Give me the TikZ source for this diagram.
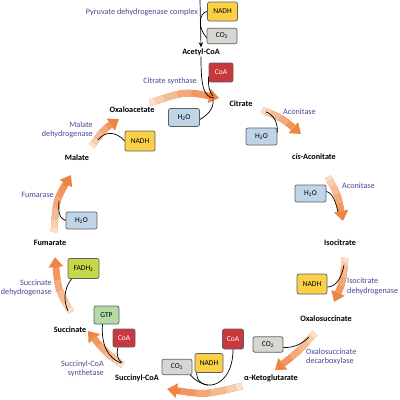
\documentclass[tikz,border=0pt]{standalone}
\usepackage{fontspec}
\setmainfont{Carlito}
\usetikzlibrary{arrows.meta}
\definecolor{ohead}{RGB}{237,132,66}
\definecolor{otail}{RGB}{251,224,204}
\definecolor{enz}{RGB}{72,72,150}
\definecolor{cyel}{RGB}{250,208,70}
\definecolor{cgray}{RGB}{214,214,210}
\definecolor{cred}{RGB}{200,56,60}
\definecolor{cblue}{RGB}{192,212,232}
\definecolor{cgreen}{RGB}{178,218,166}
\definecolor{cfad}{RGB}{198,216,72}
\definecolor{bord}{RGB}{95,95,95}
\newcommand\garr[4]{%
  \draw[line width=6.5pt, draw=ohead, -{Triangle[width=14pt,length=10pt]}] (#1) .. controls (#2) .. (#3);
  \foreach \fr/\mx in {0.8/20,0.6/40,0.4/60,0.2/80,0.07/100}{%
    \pgfmathsetlengthmacro\lA{min(\fr*#4,#4-11)}%
    \draw[line width=6.5pt, draw=otail!\mx!ohead, dash pattern=on \lA off 3000pt] (#1) .. controls (#2) .. (#3);
  }%
}
\tikzset{
  met/.style={font=\fontsize{8.2}{9}\selectfont\bfseries, inner sep=1pt},
  enzl/.style={text=enz, font=\fontsize{8.2}{9.3}\selectfont, inner sep=0pt},
  box/.style={draw=bord, line width=0.7pt, rounded corners=2pt, inner sep=0pt,
    minimum width=30pt, minimum height=18pt, font=\fontsize{7.5}{8}\selectfont},
  nadh/.style={box, fill=cyel},
  cotwo/.style={box, fill=cgray, minimum height=15.5pt},
  coa/.style={box, fill=cred, text=white, minimum width=22pt, minimum height=19pt},
  water/.style={box, fill=cblue, minimum width=31pt, minimum height=17pt},
  blk/.style={draw=black, line width=0.7pt},
}
\begin{document}
\begin{tikzpicture}[x=1pt,y=-1pt]
\useasboundingbox (0,0) rectangle (400,400);
% orange reaction arrows
\garr{150,103}{185,91}{219,98}{72}
\garr{262,110}{282,118}{301,134}{48}
\garr{328,177}{338,195}{343,221}{48}
\garr{345,258}{343,282}{334,302}{47}
\garr{315,333}{298,352}{275,370}{57}
\garr{242,386}{205,395}{167,389}{78}
\garr{123,365}{105,352}{88,331}{52}
\garr{71,312}{58,290}{55,257}{59}
\garr{54,232}{56,200}{71,175}{60}
\garr{92,146}{103,130}{119,119}{40}
% metabolites
\node[met] (acoa) at (201,52) {Acetyl-CoA};
\node[met] (oaa) at (132,110) {Oxaloacetate};
\node[met] (cit) at (241,104) {Citrate};
\node[met] (cis) at (314,157) {\textit{cis}-Aconitate};
\node[met] (iso) at (340,243) {Isocitrate};
\node[met] (oxs) at (326,319) {Oxalosuccinate};
\node[met] (akg) at (271,378) {α-Ketoglutarate};
\node[met] (scoa) at (137,378) {Succinyl-CoA};
\node[met] (suc) at (70,330) {Succinate};
\node[met] (fum) at (50,243) {Fumarate};
\node[met] (mal) at (77,158) {Malate};
% enzymes
\node[enzl, anchor=east] (pdh) at (198,12) {Pyruvate dehydrogenase complex};
\node[enzl, anchor=east] (cs) at (197,81) {Citrate synthase};
\node[enzl, anchor=west] (aco1) at (283,112) {Aconitase};
\node[enzl, anchor=west] (aco2) at (342,186) {Aconitase};
\node[enzl, anchor=west, align=left] (icdh) at (347,286.5) {Isocitrate\\dehydrogenase};
\node[enzl, anchor=west, align=left] (osdc) at (306,357) {Oxalosuccinate\\decarboxylase};
\node[enzl, anchor=east, align=right] (scs) at (104,369) {Succinyl-CoA\\synthetase};
\node[enzl, anchor=east, align=right] (sdh) at (52,288) {Succinate\\dehydrogenase};
\node[enzl, anchor=east] (fuma) at (54,195) {Fumarase};
\node[enzl, anchor=east, align=right] (mdh) at (93,130) {Malate\\dehydrogenase};
% cofactor boxes
\node[nadh, minimum height=19pt] (nadha) at (222.5,11.5) {NADH};
\node[cotwo] (co2a) at (222,36) {CO\textsubscript{2}};
\node[coa, minimum width=24pt] (coaa) at (221,72.5) {CoA};
\node[water, minimum height=18pt] (h2oa) at (184,117.5) {H\textsubscript{2}O};
\node[nadh, minimum height=20pt] (nadhb) at (140,141) {NADH};
\node[water] (h2ob) at (261.5,136.5) {H\textsubscript{2}O};
\node[water] (h2oc) at (310.5,193.5) {H\textsubscript{2}O};
\node[nadh, minimum height=20pt] (nadhc) at (312,284) {NADH};
\node[cotwo] (co2c) at (268,344.5) {CO\textsubscript{2}};
\node[coa, minimum width=21pt, minimum height=20pt] (coac) at (233,339) {CoA};
\node[nadh, minimum width=28pt, minimum height=19pt] (nadhd) at (209,363) {NADH};
\node[cotwo] (co2d) at (177,367) {CO\textsubscript{2}};
\node[box, fill=cgreen, minimum width=25pt] (gtp) at (106.5,315) {GTP};
\node[coa, minimum height=18pt] (coae) at (124,338) {CoA};
\node[box, fill=cfad, minimum width=31pt, minimum height=20pt] (fad) at (83.5,268.5) {FADH\textsubscript{2}};
\node[water] (h2od) at (81.5,220.5) {H\textsubscript{2}O};
% black connectors
\coordinate (pyr) at (200,0);
\draw[blk, -{Stealth[length=5pt,width=4.5pt]}] (pyr) -- (acoa.north);
\draw[blk] (nadha.west) .. controls (203,12) and (200.5,16) .. (200.3,22);
\draw[blk] (200.3,23) .. controls (201,30) and (203,33) .. ([yshift=-2pt]co2a.west);
\draw[blk] (acoa.south) .. controls (201,85) and (203,97) .. (214,98);
\draw[blk] ([yshift=-4pt]coaa.west) .. controls (208,85) and (209,92) .. (213,96);
\draw[blk] (213,100) .. controls (214,108) and (208,115) .. ([yshift=-2pt]h2oa.east);
\draw[blk] (nadhb.west) .. controls (115,130) and (104,132) .. (98,140);
\draw[blk] ([yshift=4pt]h2ob.east) .. controls (278,122) and (273,114) .. (266,112);
\draw[blk] ([yshift=2pt]h2oc.east) .. controls (333,193) and (336,203) .. (338,212);
\draw[blk] ([yshift=-3pt]nadhc.east) .. controls (337,287) and (342,276) .. (344,265);
\draw[blk] ([yshift=-3pt]co2c.east) .. controls (295,348) and (303,343) .. (309,337);
\draw[blk] ([xshift=2pt]nadhd.south west) .. controls (196,392) and (233,392) .. (coac.south);
\draw[blk] ([xshift=-2pt]co2d.south east) .. controls (194,379) and (200,384) .. (208,385);
\draw[blk] ([xshift=-4pt]gtp.south) .. controls (101,345) and (108,358) .. (121,363);
\draw[blk] ([xshift=-6pt]coae.south) .. controls (116,355) and (118,360) .. (122,363);
\draw[blk] ([xshift=-12pt]fad.south) .. controls (63,290) and (64,302) .. (68,311);
\draw[blk] (h2od.west) .. controls (59,219) and (58,210) .. (59,201);
\end{tikzpicture}
\end{document}
